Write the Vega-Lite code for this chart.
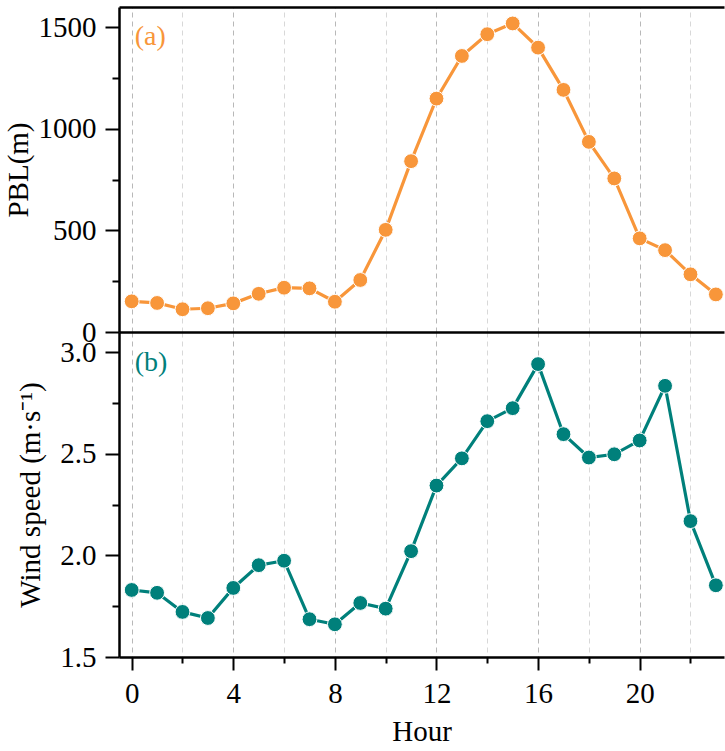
{
  "$schema": "https://vega.github.io/schema/vega-lite/v6.json",
  "padding": {"left": 4, "top": 7, "right": 0, "bottom": 0},
  "config": {
    "font": "Liberation Serif",
    "view": {"stroke": null},
    "axis": {
      "labelFont": "Liberation Serif",
      "titleFont": "Liberation Serif",
      "labelFontSize": 29,
      "titleFontSize": 29,
      "titleFontWeight": "normal",
      "labelColor": "#000",
      "titleColor": "#000",
      "domainColor": "#000",
      "domainWidth": 2.5,
      "tickColor": "#000",
      "tickWidth": 2
    }
  },
  "datasets": {
    "hourly": [
      {"hour": 0, "pbl": 151, "wind": 1.83},
      {"hour": 1, "pbl": 143, "wind": 1.816},
      {"hour": 2, "pbl": 112, "wind": 1.722},
      {"hour": 3, "pbl": 117, "wind": 1.692},
      {"hour": 4, "pbl": 141, "wind": 1.84},
      {"hour": 5, "pbl": 188, "wind": 1.952},
      {"hour": 6, "pbl": 218, "wind": 1.974},
      {"hour": 7, "pbl": 215, "wind": 1.686},
      {"hour": 8, "pbl": 149, "wind": 1.661},
      {"hour": 9, "pbl": 256, "wind": 1.766},
      {"hour": 10, "pbl": 503, "wind": 1.738},
      {"hour": 11, "pbl": 841, "wind": 2.021},
      {"hour": 12, "pbl": 1149, "wind": 2.344},
      {"hour": 13, "pbl": 1359, "wind": 2.478},
      {"hour": 14, "pbl": 1466, "wind": 2.661},
      {"hour": 15, "pbl": 1519, "wind": 2.725},
      {"hour": 16, "pbl": 1400, "wind": 2.942},
      {"hour": 17, "pbl": 1192, "wind": 2.597},
      {"hour": 18, "pbl": 936, "wind": 2.482},
      {"hour": 19, "pbl": 756, "wind": 2.498},
      {"hour": 20, "pbl": 461, "wind": 2.566},
      {"hour": 21, "pbl": 403, "wind": 2.835},
      {"hour": 22, "pbl": 284, "wind": 2.169},
      {"hour": 23, "pbl": 185, "wind": 1.853}
    ]
  },
  "spacing": 0,
  "bounds": "flush",
  "vconcat": [
    {
      "width": 605,
      "height": 325,
      "resolve": {"axis": {"x": "independent", "y": "independent"}},
      "layer": [
        {
          "data": {"name": "hourly"},
          "mark": {"type": "line", "color": "#F8963A", "strokeWidth": 3.2},
          "encoding": {
            "x": {
              "field": "hour",
              "type": "quantitative",
              "scale": {"domain": [-0.5, 23.32], "nice": false, "zero": false},
              "axis": {
                "orient": "top",
                "values": [0, 2, 4, 6, 8, 10, 12, 14, 16, 18, 20, 22],
                "labels": false,
                "ticks": false,
                "title": null,
                "grid": true,
                "gridDash": [5, 4],
                "gridWidth": 1,
                "gridColor": {"condition": {"test": "datum.value % 4 === 0", "value": "#b8b8b8"}, "value": "#d8d8d8"}
              }
            },
            "y": {
              "field": "pbl",
              "type": "quantitative",
              "scale": {"domain": [0, 1600], "nice": false},
              "axis": {
                "values": [0, 250, 500, 750, 1000, 1250, 1500],
                "format": "d",
                "labelExpr": "datum.value % 500 === 0 ? datum.label : ''",
                "tickSize": {"condition": {"test": "datum.value % 500 === 0", "value": 14}, "value": 7},
                "labelPadding": 9,
                "grid": false,
                "title": "PBL(m)",
                "titlePadding": 5
              }
            }
          }
        },
        {
          "data": {"name": "hourly"},
          "mark": {"type": "point", "filled": true, "size": 220, "color": "#F8963A", "stroke": "#ffffff", "strokeWidth": 1, "opacity": 1},
          "encoding": {
            "x": {"field": "hour", "type": "quantitative", "axis": null},
            "y": {"field": "pbl", "type": "quantitative", "axis": null}
          }
        },
        {
          "data": {"values": [{}]},
          "mark": {"type": "text", "text": "(a)", "align": "left", "baseline": "middle", "fontSize": 28, "color": "#F8963A"},
          "encoding": {
            "x": {"datum": 0.12, "axis": null},
            "y": {"datum": 1450, "axis": null}
          }
        }
      ]
    },
    {
      "width": 605,
      "height": 325,
      "resolve": {"axis": {"x": "independent", "y": "independent"}},
      "layer": [
        {
          "data": {"name": "hourly"},
          "mark": {"type": "line", "color": "#00807B", "strokeWidth": 3.2},
          "encoding": {
            "x": {
              "field": "hour",
              "type": "quantitative",
              "scale": {"domain": [-0.5, 23.32], "nice": false, "zero": false},
              "axis": {
                "orient": "bottom",
                "values": [0, 2, 4, 6, 8, 10, 12, 14, 16, 18, 20, 22],
                "labelExpr": "datum.value % 4 === 0 ? datum.label : ''",
                "tickSize": {"condition": {"test": "datum.value % 4 === 0", "value": 13}, "value": 6},
                "labelPadding": 9,
                "title": "Hour",
                "titlePadding": 9,
                "grid": true,
                "gridDash": [5, 4],
                "gridWidth": 1,
                "gridColor": {"condition": {"test": "datum.value % 4 === 0", "value": "#b8b8b8"}, "value": "#d8d8d8"}
              }
            },
            "y": {
              "field": "wind",
              "type": "quantitative",
              "scale": {"domain": [1.5, 3.1], "nice": false, "zero": false},
              "axis": {
                "values": [1.5, 1.75, 2, 2.25, 2.5, 2.75, 3],
                "format": ".1f",
                "labelExpr": "abs(datum.value * 2 - round(datum.value * 2)) < 0.001 ? datum.label : ''",
                "tickSize": {"condition": {"test": "abs(datum.value * 2 - round(datum.value * 2)) < 0.001", "value": 14}, "value": 7},
                "labelPadding": 9,
                "grid": false,
                "title": "Wind speed (m·s⁻¹)",
                "titlePadding": 14
              }
            }
          }
        },
        {
          "data": {"name": "hourly"},
          "mark": {"type": "point", "filled": true, "size": 220, "color": "#00807B", "stroke": "#ffffff", "strokeWidth": 1, "opacity": 1},
          "encoding": {
            "x": {
              "field": "hour",
              "type": "quantitative",
              "axis": {"orient": "top", "labels": false, "ticks": false, "title": null, "grid": false}
            },
            "y": {"field": "wind", "type": "quantitative", "axis": null}
          }
        },
        {
          "data": {"values": [{}]},
          "mark": {"type": "text", "text": "(b)", "align": "left", "baseline": "middle", "fontSize": 28, "color": "#00807B"},
          "encoding": {
            "x": {"datum": 0.12, "axis": null},
            "y": {"datum": 2.947, "axis": null}
          }
        }
      ]
    }
  ]
}
